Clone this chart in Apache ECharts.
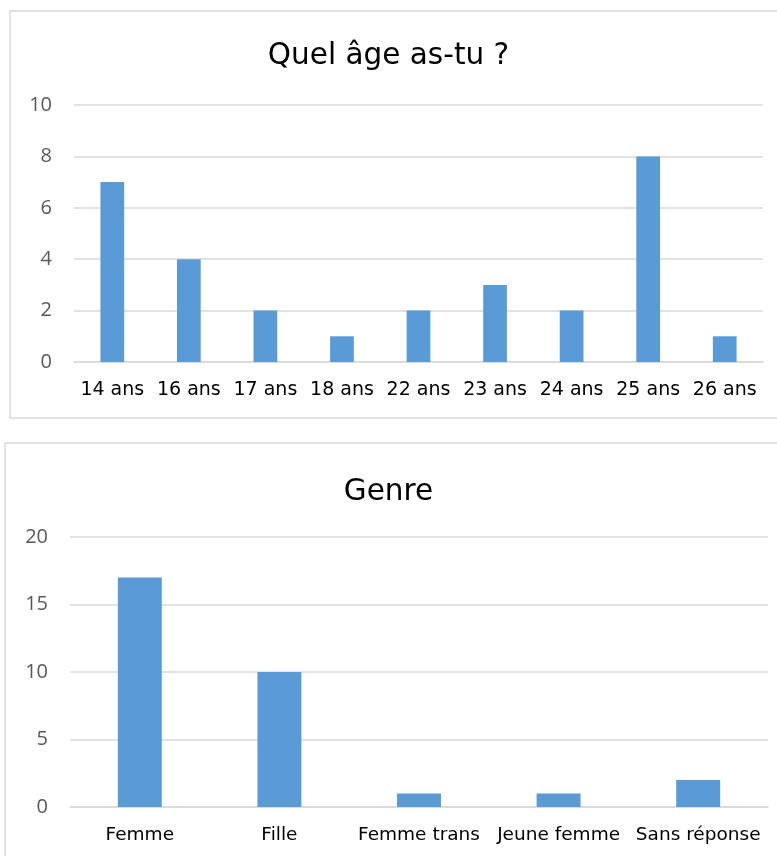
<!DOCTYPE html>
<html><head><meta charset="utf-8">
<script src="https://cdn.jsdelivr.net/npm/echarts@6/dist/echarts.min.js"></script>
<style>html,body{margin:0;padding:0;background:#fff}#c{width:777px;height:856px}</style>
</head><body><div id="c"></div>
<script>
const ageTitle = 'Quel âge as-tu ?';
const ageCategories = ['14 ans','16 ans','17 ans','18 ans','22 ans','23 ans','24 ans','25 ans','26 ans'];
const ageValues = [7,4,2,1,2,3,2,8,1];
const ageTicks = [0,2,4,6,8,10];

const genreTitle = 'Genre';
const genreCategories = ['Femme','Fille','Femme trans','Jeune femme','Sans réponse'];
const genreValues = [17,10,1,1,2];
const genreTicks = [0,5,10,15,20];

const chart = echarts.init(document.getElementById('c'), null, {renderer:'canvas'});
const titleFont = 'DejaVu Sans';
const labelFont = 'DejaVu Sans';
const numFont = 'Open Sans';
function yAxis(idx, ticks){
  return {gridIndex: idx, type:'value', min: ticks[0], max: ticks[ticks.length-1], interval: ticks[1]-ticks[0],
    axisLine:{show:false}, axisTick:{show:false},
    axisLabel:{color:'#595959', fontFamily:numFont, fontSize:20, margin:22},
    splitLine:{lineStyle:{color:'#D9D9D9', width:1.5}}};
}
function xAxis(idx, cats, size, margin){
  return {gridIndex: idx, type:'category', data: cats,
    axisLine:{lineStyle:{color:'#D9D9D9', width:1.5}}, axisTick:{show:false},
    axisLabel:{color:'#000', fontFamily:labelFont, fontSize:size, margin:margin, interval:0}};
}
chart.setOption({
  animation:false,
  title:[
    {text: ageTitle, left:'center', top:36, textStyle:{fontFamily:titleFont, fontSize:29.5, fontWeight:'normal', color:'#000'}},
    {text: genreTitle, left:'center', top:472, textStyle:{fontFamily:titleFont, fontSize:29.5, fontWeight:'normal', color:'#000'}}
  ],
  graphic:[
    {type:'rect', shape:{x:10, y:11, width:780, height:407}, style:{fill:'none', stroke:'#D9D9D9', lineWidth:1.5}, silent:true},
    {type:'rect', shape:{x:5, y:443, width:790, height:430}, style:{fill:'none', stroke:'#D9D9D9', lineWidth:1.5}, silent:true}
  ],
  grid:[
    {left:74, right:14, top:105, bottom:494},
    {left:70, right:9, top:537, bottom:49}
  ],
  xAxis:[xAxis(0, ageCategories, 19, 19), xAxis(1, genreCategories, 18.5, 19)],
  yAxis:[yAxis(0, ageTicks), yAxis(1, genreTicks)],
  series:[
    {type:'bar', xAxisIndex:0, yAxisIndex:0, data: ageValues, barWidth:'31%', itemStyle:{color:'#5B9BD5'}},
    {type:'bar', xAxisIndex:1, yAxisIndex:1, data: genreValues, barWidth:'31.5%', itemStyle:{color:'#5B9BD5'}}
  ]
});
</script></body></html>
